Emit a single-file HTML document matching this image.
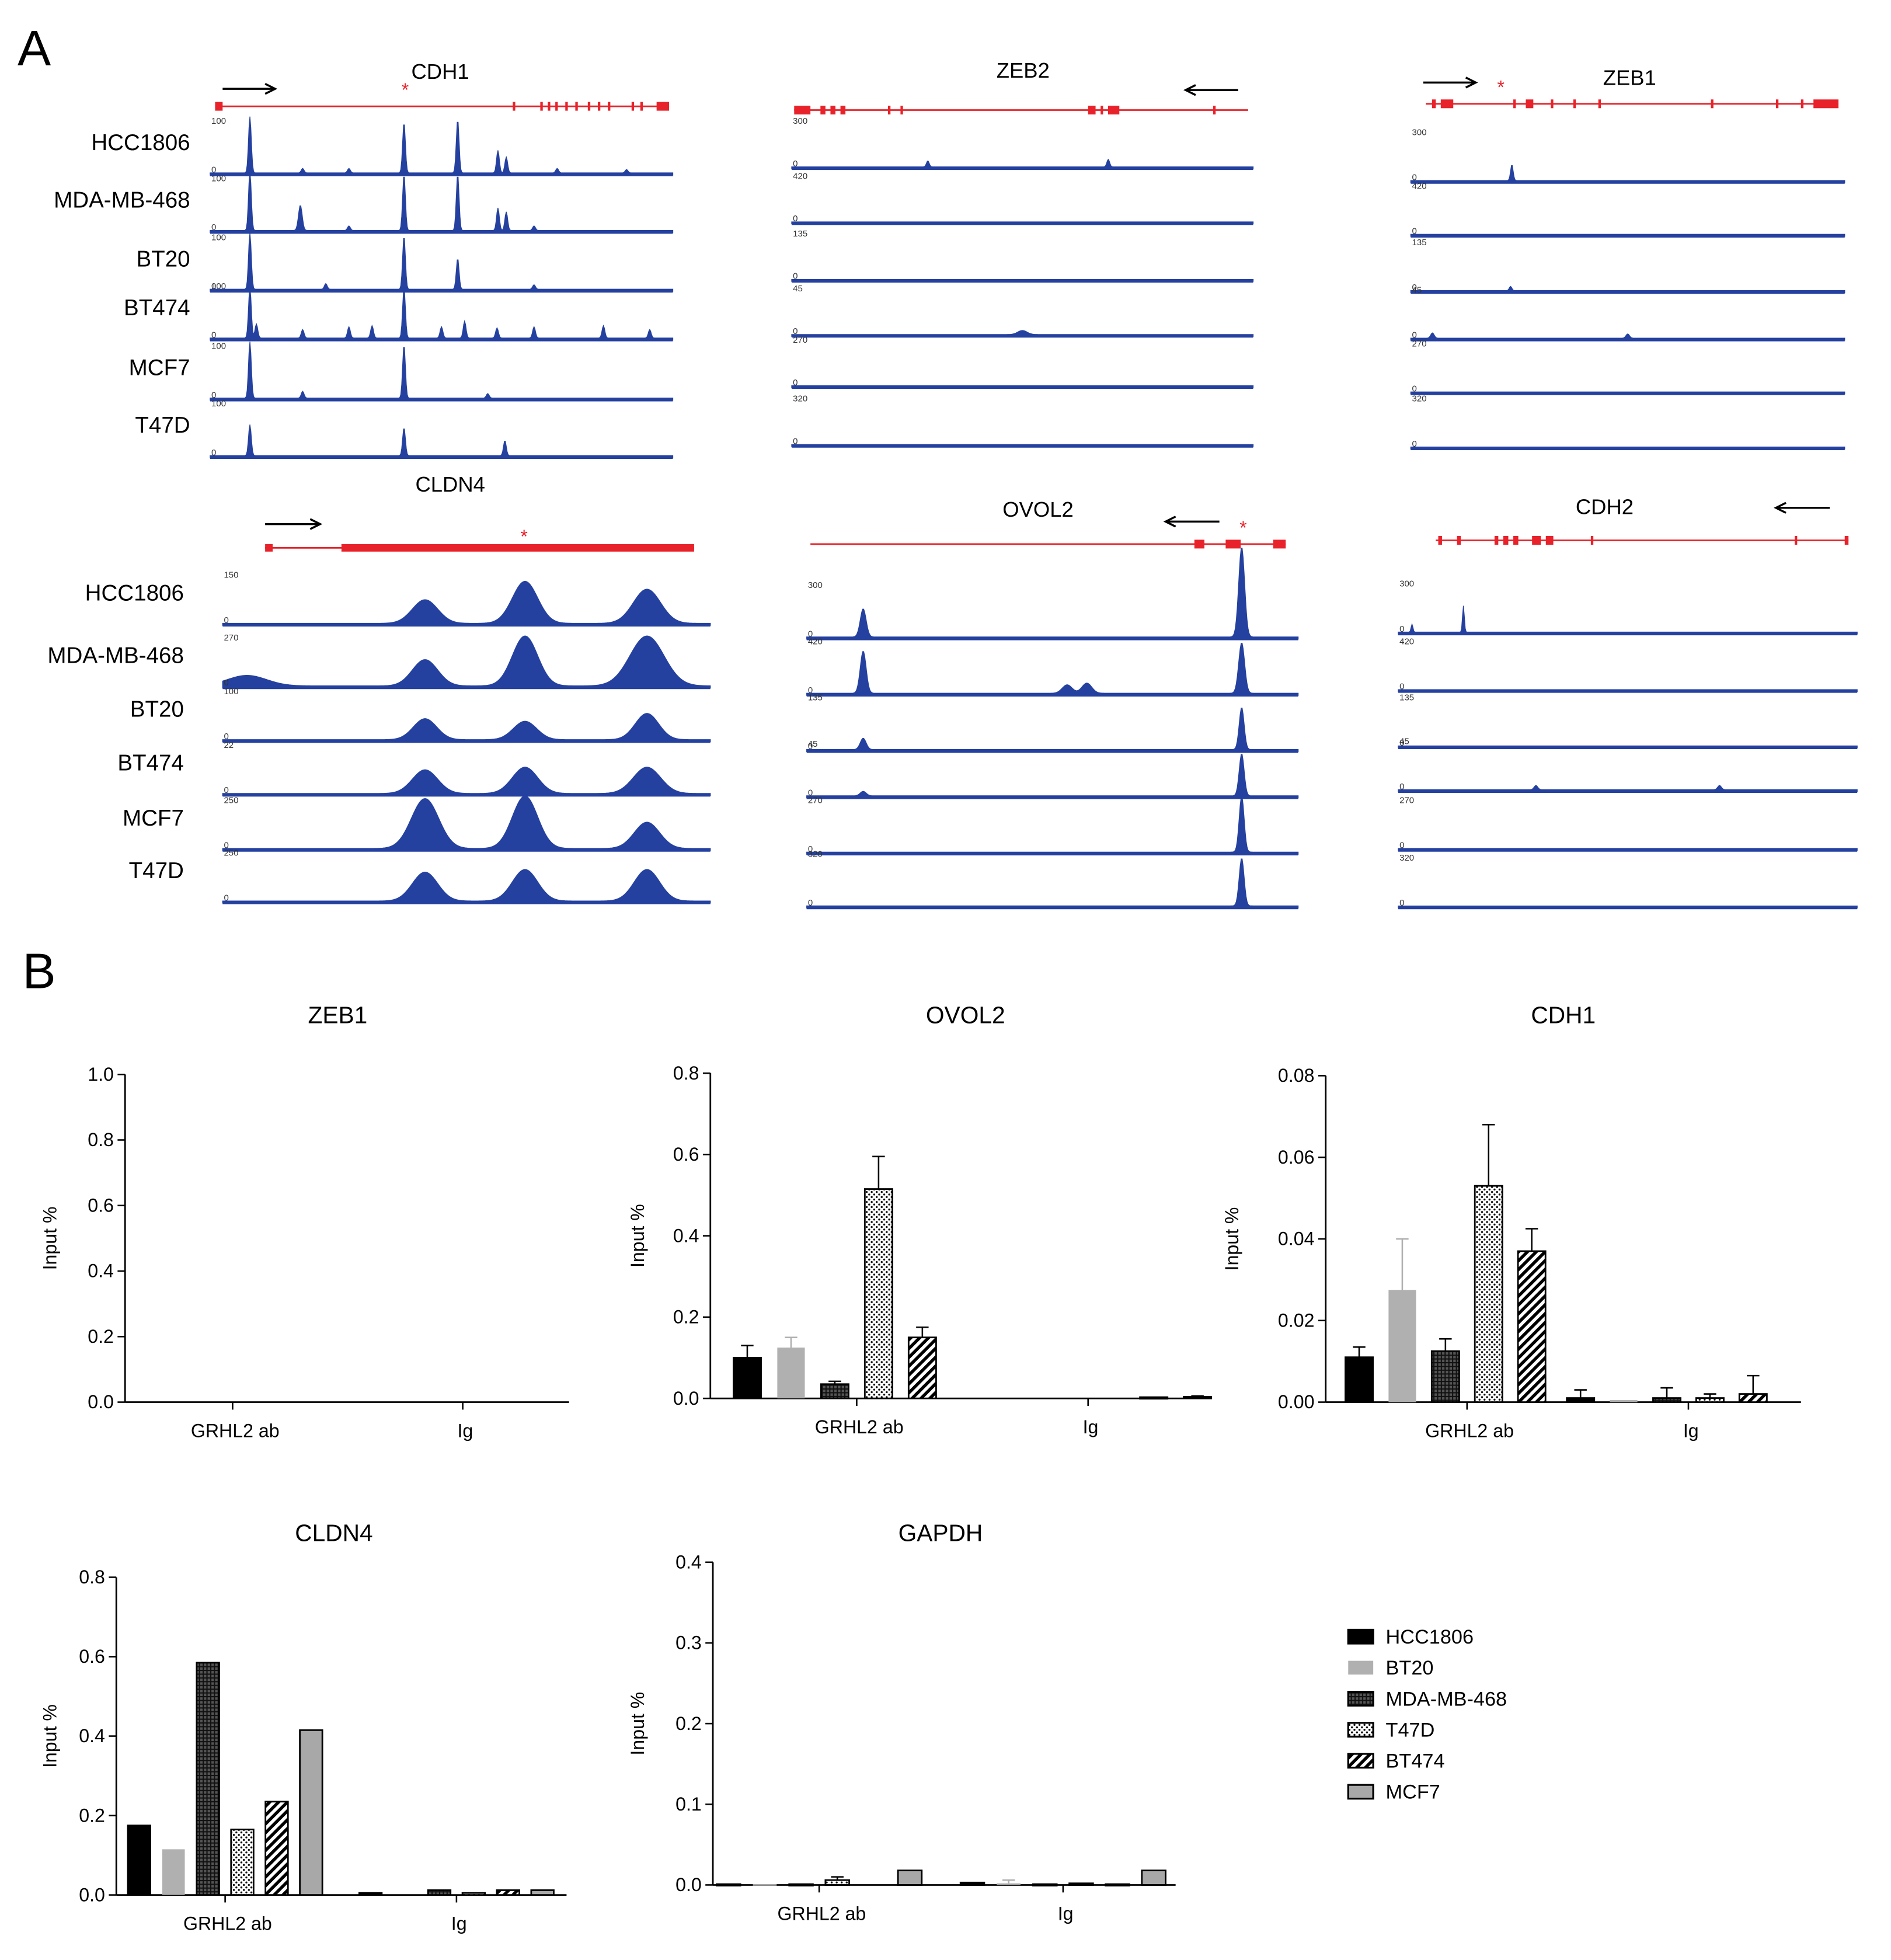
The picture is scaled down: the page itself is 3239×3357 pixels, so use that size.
<!DOCTYPE html>
<html><head><meta charset="utf-8">
<style>
html,body{margin:0;padding:0;background:#fff;}
svg{display:block;font-family:"Liberation Sans",Arial,sans-serif;}
</style></head>
<body>
<svg id="fig" width="3239" height="3357" viewBox="0 0 1512 1567" preserveAspectRatio="none" xmlns="http://www.w3.org/2000/svg">
<defs>
<pattern id="pGrid" width="3" height="3" patternUnits="userSpaceOnUse"><rect width="3" height="3" fill="#555"/><path d="M0 0.5H3M0.5 0V3" stroke="#111" stroke-width="1"/></pattern>
<pattern id="pDots" width="4" height="4" patternUnits="userSpaceOnUse"><rect width="4" height="4" fill="#fff"/><circle cx="1" cy="1" r="0.8" fill="#000"/><circle cx="3" cy="3" r="0.8" fill="#000"/></pattern>
<pattern id="pDiag" width="5" height="5" patternUnits="userSpaceOnUse" patternTransform="rotate(45)"><rect width="5" height="5" fill="#fff"/><rect width="2.5" height="5" fill="#000"/></pattern>
</defs>
<text x="14" y="52" font-size="40">A</text>
<text x="18" y="790" font-size="40">B</text>
<g id="tracks"></g>
<g id="charts"></g>
</svg>
<script>
const NS="http://www.w3.org/2000/svg";
const cells=["HCC1806","MDA-MB-468","BT20","BT474","MCF7","T47D"];
// Panel A peaks: [genomic fraction, relative height, width fraction]
const cdh1Peaks=[[[0.086,1,0.003],[0.419,0.9,0.003],[0.535,0.95,0.003],[0.622,0.4,0.003],[0.64,0.28,0.003],[0.2,0.08,0.003],[0.3,0.08,0.003],[0.75,0.08,0.003],[0.9,0.06,0.003]],[[0.086,1.05,0.003],[0.195,0.45,0.004],[0.419,1,0.003],[0.535,1,0.003],[0.622,0.4,0.003],[0.64,0.33,0.003],[0.3,0.08,0.003],[0.7,0.08,0.003]],[[0.086,1,0.003],[0.419,0.95,0.003],[0.535,0.55,0.003],[0.25,0.1,0.003],[0.7,0.08,0.003]],[[0.086,0.9,0.003],[0.419,0.9,0.003],[0.1,0.25,0.003],[0.3,0.2,0.003],[0.35,0.22,0.003],[0.5,0.2,0.003],[0.55,0.3,0.003],[0.7,0.2,0.003],[0.85,0.22,0.003],[0.2,0.15,0.003],[0.62,0.18,0.003],[0.95,0.15,0.003]],[[0.086,1,0.003],[0.419,0.95,0.003],[0.2,0.12,0.003],[0.6,0.08,0.003]],[[0.086,0.55,0.003],[0.419,0.5,0.003],[0.637,0.27,0.003]]];
const zeb2Peaks=[[[0.295,0.12,0.003],[0.686,0.15,0.003]],[],[],[[0.5,0.08,0.01]],[],[]];
const zeb1Peaks=[[[0.233,0.3,0.003]],[],[[0.23,0.08,0.003]],[[0.05,0.1,0.004],[0.5,0.08,0.004]],[],[]];
const cldn4Peaks=[[[0.415,0.45,0.026],[0.62,0.8,0.026],[0.87,0.65,0.028]],[[0.05,0.2,0.04],[0.415,0.5,0.026],[0.62,0.95,0.026],[0.87,0.95,0.035]],[[0.415,0.4,0.024],[0.62,0.35,0.024],[0.87,0.5,0.024]],[[0.415,0.45,0.026],[0.62,0.5,0.026],[0.87,0.5,0.028]],[[0.415,0.95,0.028],[0.62,1.0,0.026],[0.87,0.5,0.026]],[[0.415,0.55,0.026],[0.62,0.6,0.026],[0.87,0.6,0.026]]];
const ovol2Peaks=[[[0.115,0.5,0.006],[0.885,1.6,0.006]],[[0.115,0.75,0.006],[0.53,0.15,0.01],[0.57,0.18,0.01],[0.885,0.9,0.006]],[[0.115,0.2,0.006],[0.885,0.75,0.005]],[[0.115,0.08,0.006],[0.885,0.75,0.005]],[[0.885,1.0,0.005]],[[0.885,0.85,0.005]]];
const cdh2Peaks=[[[0.142,0.5,0.002],[0.03,0.15,0.002]],[],[],[[0.3,0.08,0.004],[0.7,0.08,0.004]],[],[]];
const groups=[
 {gene:"CDH1",peaks:cdh1Peaks,x0:168,x1:538,base:[140,186,233,272,320,366],h:45,labX:152,gy:85,gx0:172,gx1:535,thick:[[172,178],[410,411],[432,434],[438,440],[444,446],[452,454],[460,462],[470,472],[478,480],[486,488],[505,507],[512,514],[525,535]],arrow:[178,220,71,1],star:324,ty:63,tx:352,sc:["100","100","100","100","100","100"]},
 {gene:"ZEB2",peaks:zeb2Peaks,x0:633,x1:1002,base:[135,179,225,269,310,357],h:40,gy:88,gx0:635,gx1:998,thick:[[635,648],[656,660],[664,668],[672,676],[710,712],[720,722],[870,876],[880,882],[886,895],[970,972]],arrow:[990,948,72,-1],ty:62,tx:818,sc:["300","420","135","45","270","320"]},
 {gene:"ZEB1",peaks:zeb1Peaks,x0:1128,x1:1475,base:[146,189,234,272,315,359],h:42,gy:83,gx0:1140,gx1:1470,thick:[[1145,1148],[1152,1162],[1210,1212],[1220,1226],[1240,1242],[1258,1260],[1278,1280],[1368,1370],[1420,1422],[1440,1442],[1450,1470]],arrow:[1138,1180,66,1],star:1200,ty:68,tx:1303,sc:["300","420","135","45","270","320"]},
 {gene:"CLDN4",peaks:cldn4Peaks,x0:178,x1:568,base:[500,550,593,636,680,722],h:42,labX:147,gy:438,gx0:212,gx1:555,thick:[[212,218],[273,555]],thickH:6,arrow:[212,256,419,1],star:419,ty:393,tx:360,sc:["150","270","100","22","250","250"]},
 {gene:"OVOL2",peaks:ovol2Peaks,x0:645,x1:1038,base:[511,556,601,638,683,726],h:45,gy:435,gx0:648,gx1:1028,thick:[[955,963],[980,992],[1018,1028]],arrow:[975,932,417,-1],star:994,ty:413,tx:830,sc:["300","420","135","45","270","320"]},
 {gene:"CDH2",peaks:cdh2Peaks,x0:1118,x1:1485,base:[507,553,598,633,680,726],h:42,gy:432,gx0:1148,gx1:1478,thick:[[1150,1153],[1165,1168],[1195,1198],[1202,1206],[1210,1214],[1225,1232],[1236,1242],[1272,1274],[1435,1437],[1475,1478]],arrow:[1463,1420,406,-1],ty:411,tx:1283,sc:["300","420","135","45","270","320"]}
];
function mk(tag,attrs,parent,txt){const e=document.createElementNS(NS,tag);for(const k in attrs)e.setAttribute(k,attrs[k]);if(txt!==undefined)e.textContent=txt;parent.appendChild(e);return e;}
const T=document.getElementById("tracks");
groups.forEach((g,gi)=>{
 const G=mk("g",{},T);
 
 
 const t=mk("text",{x:g.tx,y:g.ty,"font-size":17,"text-anchor":"middle"},G,g.gene);
 
 
 const gl=mk("line",{x1:g.gx0,x2:g.gx1,y1:g.gy,y2:g.gy,stroke:"#e8222a","stroke-width":1.3},G);
 
 
 g.thick.forEach(r=>{const th=g.thickH||7;mk("rect",{x:r[0],y:g.gy-th/2,width:Math.max(2,r[1]-r[0]),height:th,fill:"#e8222a"},G);});
 const a=g.arrow;
 const ar=mk("path",{d:`M${a[0]} ${a[2]}H${a[1]}M${a[1]-8*a[3]} ${a[2]-4}L${a[1]} ${a[2]}L${a[1]-8*a[3]} ${a[2]+4}`,stroke:"#000","stroke-width":1.6,fill:"none"},G);
 
 
 if(g.star){mk("text",{x:g.star,y:g.gy-(g.gene==="CLDN4"?4:8),"font-size":15,fill:"#e8222a","text-anchor":"middle"},G,"*");}
 cells.forEach((c,ci)=>{
  const yb=g.base[ci];const N=500;const w=g.x1-g.x0;
  let d=`M${g.x0} ${yb}`;
  for(let i=0;i<=N;i++){const f=i/N;let v=0.04;g.peaks[ci].forEach(p=>{v+=p[1]*Math.exp(-0.5*Math.pow((f-p[0])/p[2],2));});d+=`L${(g.x0+f*w).toFixed(2)} ${(yb-v*g.h).toFixed(2)}`;}
  d+=`L${g.x1} ${yb}Z`;
  const p=mk("path",{d:d,fill:"#2541a0",stroke:"#2541a0","stroke-width":0.6},G);
  
  
  mk("line",{x1:g.x0,x2:g.x1,y1:yb,y2:yb,stroke:"#2541a0","stroke-width":1.8},G);
  mk("text",{x:g.x0+1,y:yb-g.h+4,"font-size":7,fill:"#333"},G,g.sc[ci]);
  mk("text",{x:g.x0+1,y:yb-2,"font-size":7,fill:"#333"},G,"0");
  if(g.labX){const lt=mk("text",{x:g.labX,y:yb-20,"font-size":18,"text-anchor":"end"},G,c);
   
   }
 });
});

// ---------- Panel B bar charts ----------
const series=["HCC1806","BT20","MDA-MB-468","T47D","BT474","MCF7"];
const fills=["#000","#b0b0b0","url(#pGrid)","url(#pDots)","url(#pDiag)","#a8a8a8"];
const strokes=["#000","none","#000","#000","#000","#000"];
const cats=["GRHL2 ab","Ig"];
const ovol2Vals=[[0.10,0.0],[0.125,0.0],[0.035,0.0],[0.515,0.0],[0.15,0.003],[0.0,0.004]];
const ovol2Err=[[0.13,0],[0.15,0],[0.042,0],[0.595,0],[0.175,0],[0,0.006]];
const cdh1Vals=[[0.011,0.001],[0.0275,0.0005],[0.0125,0.001],[0.053,0.001],[0.037,0.002],[0,0]];
const cdh1Err=[[0.0135,0.003],[0.04,0],[0.0155,0.0035],[0.068,0.002],[0.0425,0.0065],[0,0]];
const cldn4Vals=[[0.175,0.005],[0.115,0.0],[0.585,0.012],[0.165,0.005],[0.235,0.012],[0.415,0.012]];
const gapdhVals=[[0.001,0.003],[0.001,0.002],[0.001,0.001],[0.006,0.002],[0.0,0.001],[0.018,0.018]];
const gapdhErr=[[0,0],[0,0.006],[0,0],[0.01,0],[0,0],[0,0]];
const zeb1Ticks=["0.0","0.2","0.4","0.6","0.8","1.0"];
const ovol2Ticks=["0.0","0.2","0.4","0.6","0.8"];
const cdh1Ticks=["0.00","0.02","0.04","0.06","0.08"];
const cldn4Ticks=["0.0","0.2","0.4","0.6","0.8"];
const gapdhTicks=["0.0","0.1","0.2","0.3","0.4"];
const charts=[
 {title:"ZEB1",ax:100,ax1:455,yTop:859,yBot:1121,max:1.0,ticks:zeb1Ticks,centers:[186,370],step:35,bw:22,vals:null,tx:270,ty:818,ylx:45},
 {title:"OVOL2",ax:568,ax1:965,yTop:858,yBot:1118,max:0.8,ticks:ovol2Ticks,centers:[685,870],step:35,bw:22,vals:ovol2Vals,err:ovol2Err,tx:772,ty:818,ylx:515},
 {title:"CDH1",ax:1060,ax1:1440,yTop:860,yBot:1121,max:0.08,ticks:cdh1Ticks,centers:[1173,1350],step:34.5,bw:22,vals:cdh1Vals,err:cdh1Err,tx:1250,ty:818,ylx:990},
 {title:"CLDN4",ax:93,ax1:453,yTop:1261,yBot:1515,max:0.8,ticks:cldn4Ticks,centers:[180,365],step:27.5,bw:18,vals:cldn4Vals,tx:267,ty:1232,ylx:45},
 {title:"GAPDH",ax:570,ax1:940,yTop:1249,yBot:1507,max:0.4,ticks:gapdhTicks,centers:[655,850],step:29,bw:19,vals:gapdhVals,err:gapdhErr,tx:752,ty:1232,ylx:515}
];
const C=document.getElementById("charts");
charts.forEach(ch=>{
 const G=mk("g",{},C);
 
 
 const y=v=>ch.yBot-(v/ch.max)*(ch.yBot-ch.yTop);
 const tt=mk("text",{x:ch.tx,y:ch.ty,"font-size":19,"text-anchor":"middle"},G,ch.title);
 
 
 const yl=mk("text",{x:ch.ylx,y:(ch.yTop+ch.yBot)/2,"font-size":15,"text-anchor":"middle",transform:`rotate(-90 ${ch.ylx} ${(ch.yTop+ch.yBot)/2})`},G,"Input %");
 
 
 mk("line",{x1:ch.ax,x2:ch.ax,y1:ch.yTop,y2:ch.yBot,stroke:"#000","stroke-width":1.3},G);
 mk("line",{x1:ch.ax,x2:ch.ax1,y1:ch.yBot,y2:ch.yBot,stroke:"#000","stroke-width":1.3},G);
 ch.ticks.forEach((t,i)=>{const v=parseFloat(t);const yy=y(v);
  mk("line",{x1:ch.ax-6,x2:ch.ax,y1:yy,y2:yy,stroke:"#000","stroke-width":1.2},G);
  const tl=mk("text",{x:ch.ax-9,y:yy+5,"font-size":15,"text-anchor":"end"},G,t);
  
  });
 cats.forEach((c,ci)=>{const cx=ch.centers[ci];
  mk("line",{x1:cx,x2:cx,y1:ch.yBot,y2:ch.yBot+6,stroke:"#000","stroke-width":1.2},G);
  const cl=mk("text",{x:cx+2,y:ch.yBot+28,"font-size":15,"text-anchor":"middle"},G,c);
  
  
  if(!ch.vals)return;
  series.forEach((s,si)=>{const v=ch.vals[si][ci];const bx=cx+(si-2.5)*ch.step;
   if(ch.err&&ch.err[si][ci]>v){const e=ch.err[si][ci];const col=si===1?"#b0b0b0":"#000";
    mk("path",{d:`M${bx} ${y(v)}V${y(e)}M${bx-5} ${y(e)}H${bx+5}`,stroke:col,"stroke-width":1.2,fill:"none"},G);}
   if(v<=0)return;
   const r=mk("rect",{x:bx-ch.bw/2,y:y(v),width:ch.bw,height:Math.max(1.2,ch.yBot-y(v)),fill:fills[si],stroke:strokes[si],"stroke-width":1.3},G);
   
   
  });
 });
});
// legend
const L=mk("g",{},C);


series.forEach((s,i)=>{const yy=1303+i*24.8;
 const e=mk("g",{},L);
 
 
 mk("rect",{x:1078,y:yy,width:20,height:11,fill:fills[i],stroke:strokes[i]==="none"?"none":"#000","stroke-width":1.5},e);
 mk("text",{x:1108,y:yy+11,"font-size":16},e,s);
});
</script>
</body></html>
